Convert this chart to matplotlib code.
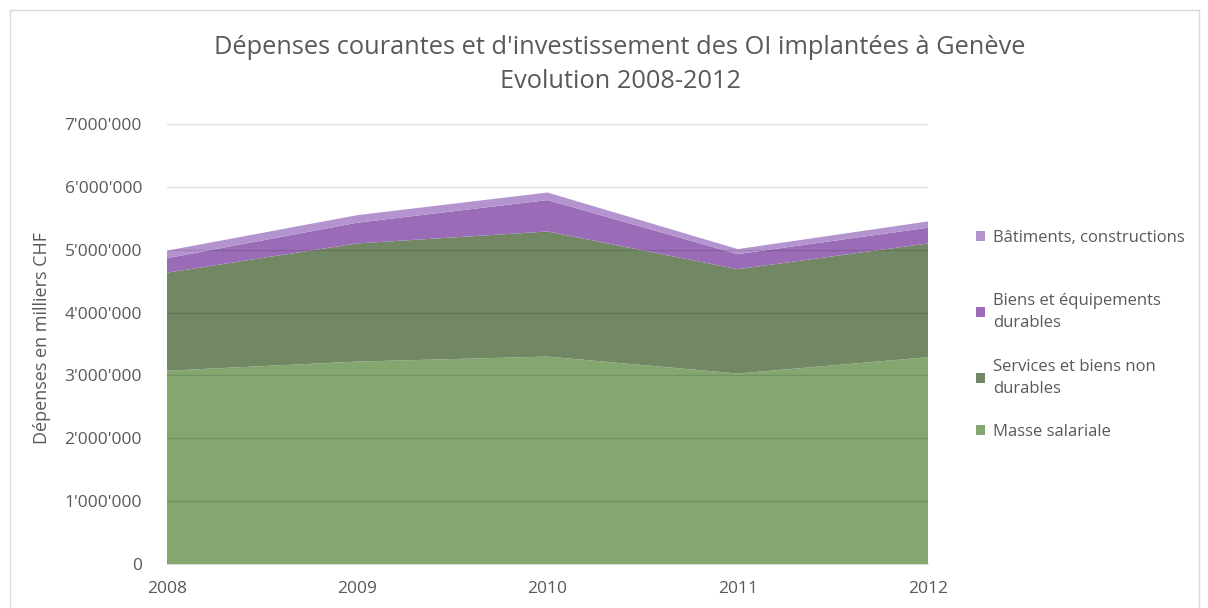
import matplotlib
matplotlib.use("Agg")
import matplotlib.pyplot as plt
from matplotlib.ticker import FuncFormatter
from matplotlib.patches import Rectangle

plt.rcParams['font.family'] = ['Open Sans', 'DejaVu Sans']

years = [2008, 2009, 2010, 2011, 2012]
masse_salariale = [3075000, 3220000, 3300000, 3030000, 3290000]
services_non_durables = [1560000, 1880000, 1990000, 1660000, 1810000]
biens_durables = [230000, 330000, 500000, 240000, 250000]
batiments = [120000, 120000, 120000, 80000, 100000]

labels = ["Masse salariale", "Services et biens non\ndurables",
          "Biens et équipements\ndurables", "Bâtiments, constructions"]
colors = ["#84A66F", "#728865", "#9A6CB8", "#B494CF"]
text_color = "#595959"

fig = plt.figure(figsize=(12.08, 6.08), dpi=100)
W, H = 1208, 608
ax = fig.add_axes([167 / W, 1 - 564 / H, (928 - 167) / W, (564 - 124) / H])

polys = ax.stackplot(years, masse_salariale, services_non_durables, biens_durables, batiments,
                     colors=colors, labels=labels, linewidth=0, zorder=1)

ax.set_xlim(2008, 2012)
ax.set_ylim(0, 7000000)
ax.set_yticks(range(0, 7000001, 1000000))
ax.set_xticks(years)
ax.yaxis.set_major_formatter(FuncFormatter(lambda v, p: f"{int(v):,}".replace(",", "'")))
ax.grid(axis='y', color='#000000', alpha=0.12, linewidth=1, zorder=2)
ax.set_axisbelow(False)
for s in ['top', 'right', 'left']:
    ax.spines[s].set_visible(False)
ax.spines['bottom'].set_color('#D9D9D9')
ax.tick_params(axis='both', length=0, colors=text_color, labelsize=12.5)
ax.tick_params(axis='y', pad=18)
ax.tick_params(axis='x', pad=12)
ax.set_ylabel("Dépenses en milliers CHF", color=text_color, fontsize=13)
ax.yaxis.set_label_coords((51 - 167) / (928 - 167), (564 - 338) / (564 - 124))

fig.text(620 / W, 1 - 48 / H, "Dépenses courantes et d'investissement des OI implantées à Genève",
         ha='center', va='center', fontsize=18.3, color=text_color)
fig.text(620 / W, 1 - 82 / H, "Evolution 2008-2012",
         ha='center', va='center', fontsize=18.3, color=text_color)

# Legend entries placed individually (top line y positions in pixels)
entry_y = [437, 372, 306, 243]  # Masse, Services, Biens, Bâtiments
for poly, lab, yy in zip(polys, labels, entry_y):
    lg = fig.legend([poly], [lab], loc='upper left',
                    bbox_to_anchor=(976 / W, 1 - (yy - 13) / H),
                    frameon=False, fontsize=12, labelcolor=text_color, handlelength=0.55,
                    handleheight=0.55, handletextpad=0.45, borderpad=0, borderaxespad=0)
    for t in lg.get_texts():
        t.set_linespacing(1.5)

fig.patches.append(Rectangle((10 / W, -0.1), (1199 - 10) / W, 1 - 10 / H + 0.1,
                             transform=fig.transFigure, fill=False, edgecolor='#D9D9D9', linewidth=1))

fig.savefig("out.png", dpi=100)
